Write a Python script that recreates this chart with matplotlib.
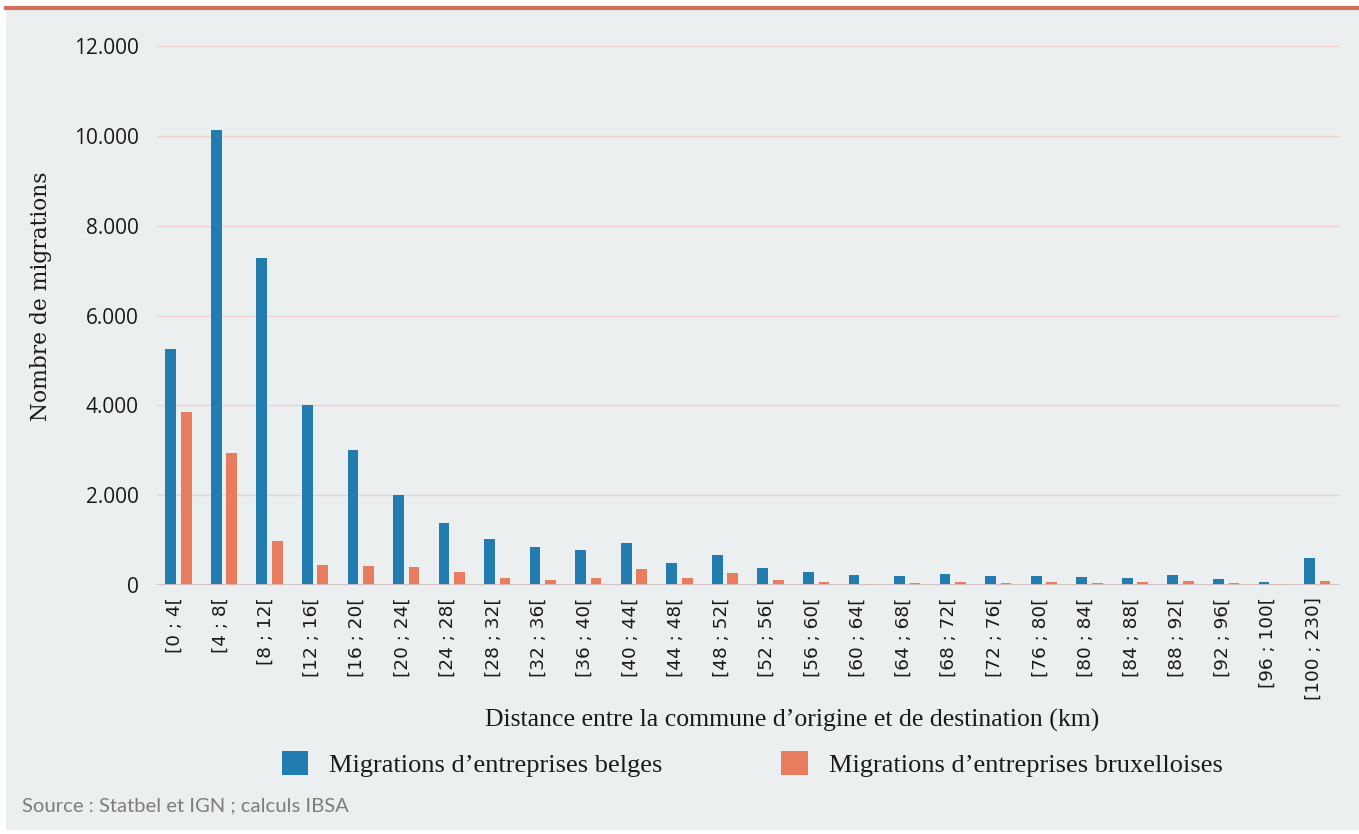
import matplotlib
matplotlib.use("Agg")
import matplotlib.pyplot as plt
from matplotlib.patches import Patch, Rectangle
from matplotlib.lines import Line2D
import numpy as np

categories = ["[0 ; 4[", "[4 ; 8[", "[8 ; 12[", "[12 ; 16[", "[16 ; 20[", "[20 ; 24[",
              "[24 ; 28[", "[28 ; 32[", "[32 ; 36[", "[36 ; 40[", "[40 ; 44[", "[44 ; 48[",
              "[48 ; 52[", "[52 ; 56[", "[56 ; 60[", "[60 ; 64[", "[64 ; 68[", "[68 ; 72[",
              "[72 ; 76[", "[76 ; 80[", "[80 ; 84[", "[84 ; 88[", "[88 ; 92[", "[92 ; 96[",
              "[96 ; 100[", "[100 ; 230]"]
belges = [5250, 10130, 7280, 4010, 3005, 2000, 1380, 1025, 845, 780, 935, 490,
          670, 380, 290, 220, 200, 245, 200, 200, 175, 155, 220, 130, 65, 600]
bruxelloises = [3850, 2940, 985, 445, 420, 400, 290, 155, 110, 155, 355, 155,
                265, 110, 65, 20, 45, 65, 45, 65, 45, 65, 90, 45, 20, 90]
yticks = [0, 2000, 4000, 6000, 8000, 10000, 12000]
ytick_labels = ["0", "2.000", "4.000", "6.000", "8.000", "10.000", "12.000"]

BG = "#ECEFF0"
BLUE = "#237CAF"
ORANGE = "#E87C5F"

W, H = 1359, 834
fig = plt.figure(figsize=(W / 100, H / 100), dpi=100, facecolor="white")
fig.add_artist(Rectangle((6 / W, 4 / H), 1 - 6 / W, 1 - 10 / H, transform=fig.transFigure,
                         facecolor=BG, edgecolor="none", zorder=-10))
ax = fig.add_axes([157 / W, 1 - 585 / H, (1340 - 157) / W, (585 - 46) / H], facecolor=BG)

x = np.arange(len(categories))
bw = 0.235
ax.bar(x - 0.17, belges, width=bw, color=BLUE, zorder=3)
ax.bar(x + 0.17, bruxelloises, width=bw, color=ORANGE, zorder=3)

ax.set_xlim(-0.47, len(categories) - 0.5)
ax.set_ylim(0, 12000)
ax.set_yticks(yticks)
ax.set_yticklabels(ytick_labels, fontsize=15, family="Open Sans", color="#1a1a1a")
ax.set_xticks(x - 0.08)
ax.set_xticklabels(categories, rotation=90, fontsize=13.3, family="DejaVu Sans", color="#1a1a1a")
ax.tick_params(axis="both", length=0)
ax.tick_params(axis="x", pad=9)
ax.tick_params(axis="y", pad=13)
for s in ax.spines.values():
    s.set_visible(False)
ax.grid(axis="y", color="#F1CFCB", linewidth=1, zorder=0)
ax.axhline(0, color="#D3C0C0", linewidth=2, zorder=4)

fig.text(41 / W, 1 - 296 / H, "Nombre de migrations", rotation=90, ha="center", va="center",
         fontsize=15.7, family="DejaVu Serif", color="#1a1a1a")
fig.text(792 / W, 1 - 720 / H, "Distance entre la commune d\u2019origine et de destination (km)",
         ha="center", va="center", fontsize=18.5, family="Liberation Serif", color="#1a1a1a")

handles = [Patch(facecolor=BLUE), Patch(facecolor=ORANGE)]
leg = fig.legend(handles, ["Migrations d\u2019entreprises belges", "Migrations d\u2019entreprises bruxelloises"],
                 loc="center", bbox_to_anchor=(752 / W, 1 - 764 / H), ncol=2, frameon=False,
                 prop={"family": "Liberation Serif", "size": 19}, handlelength=1.0, handleheight=1.0,
                 columnspacing=4.5, handletextpad=0.8)
for t in leg.get_texts():
    t.set_color("#1a1a1a")

fig.text(22 / W, 1 - 806 / H, "Source : Statbel et IGN ; calculs IBSA", ha="left", va="center",
         fontsize=14.6, family="Lato", color="#7d7d7d")

fig.add_artist(Line2D([6 / W, 1], [1 - 8 / H, 1 - 8 / H], color="#D2705E", linewidth=3,
                      transform=fig.transFigure))

fig.savefig("out.png", dpi=100, facecolor="white")
